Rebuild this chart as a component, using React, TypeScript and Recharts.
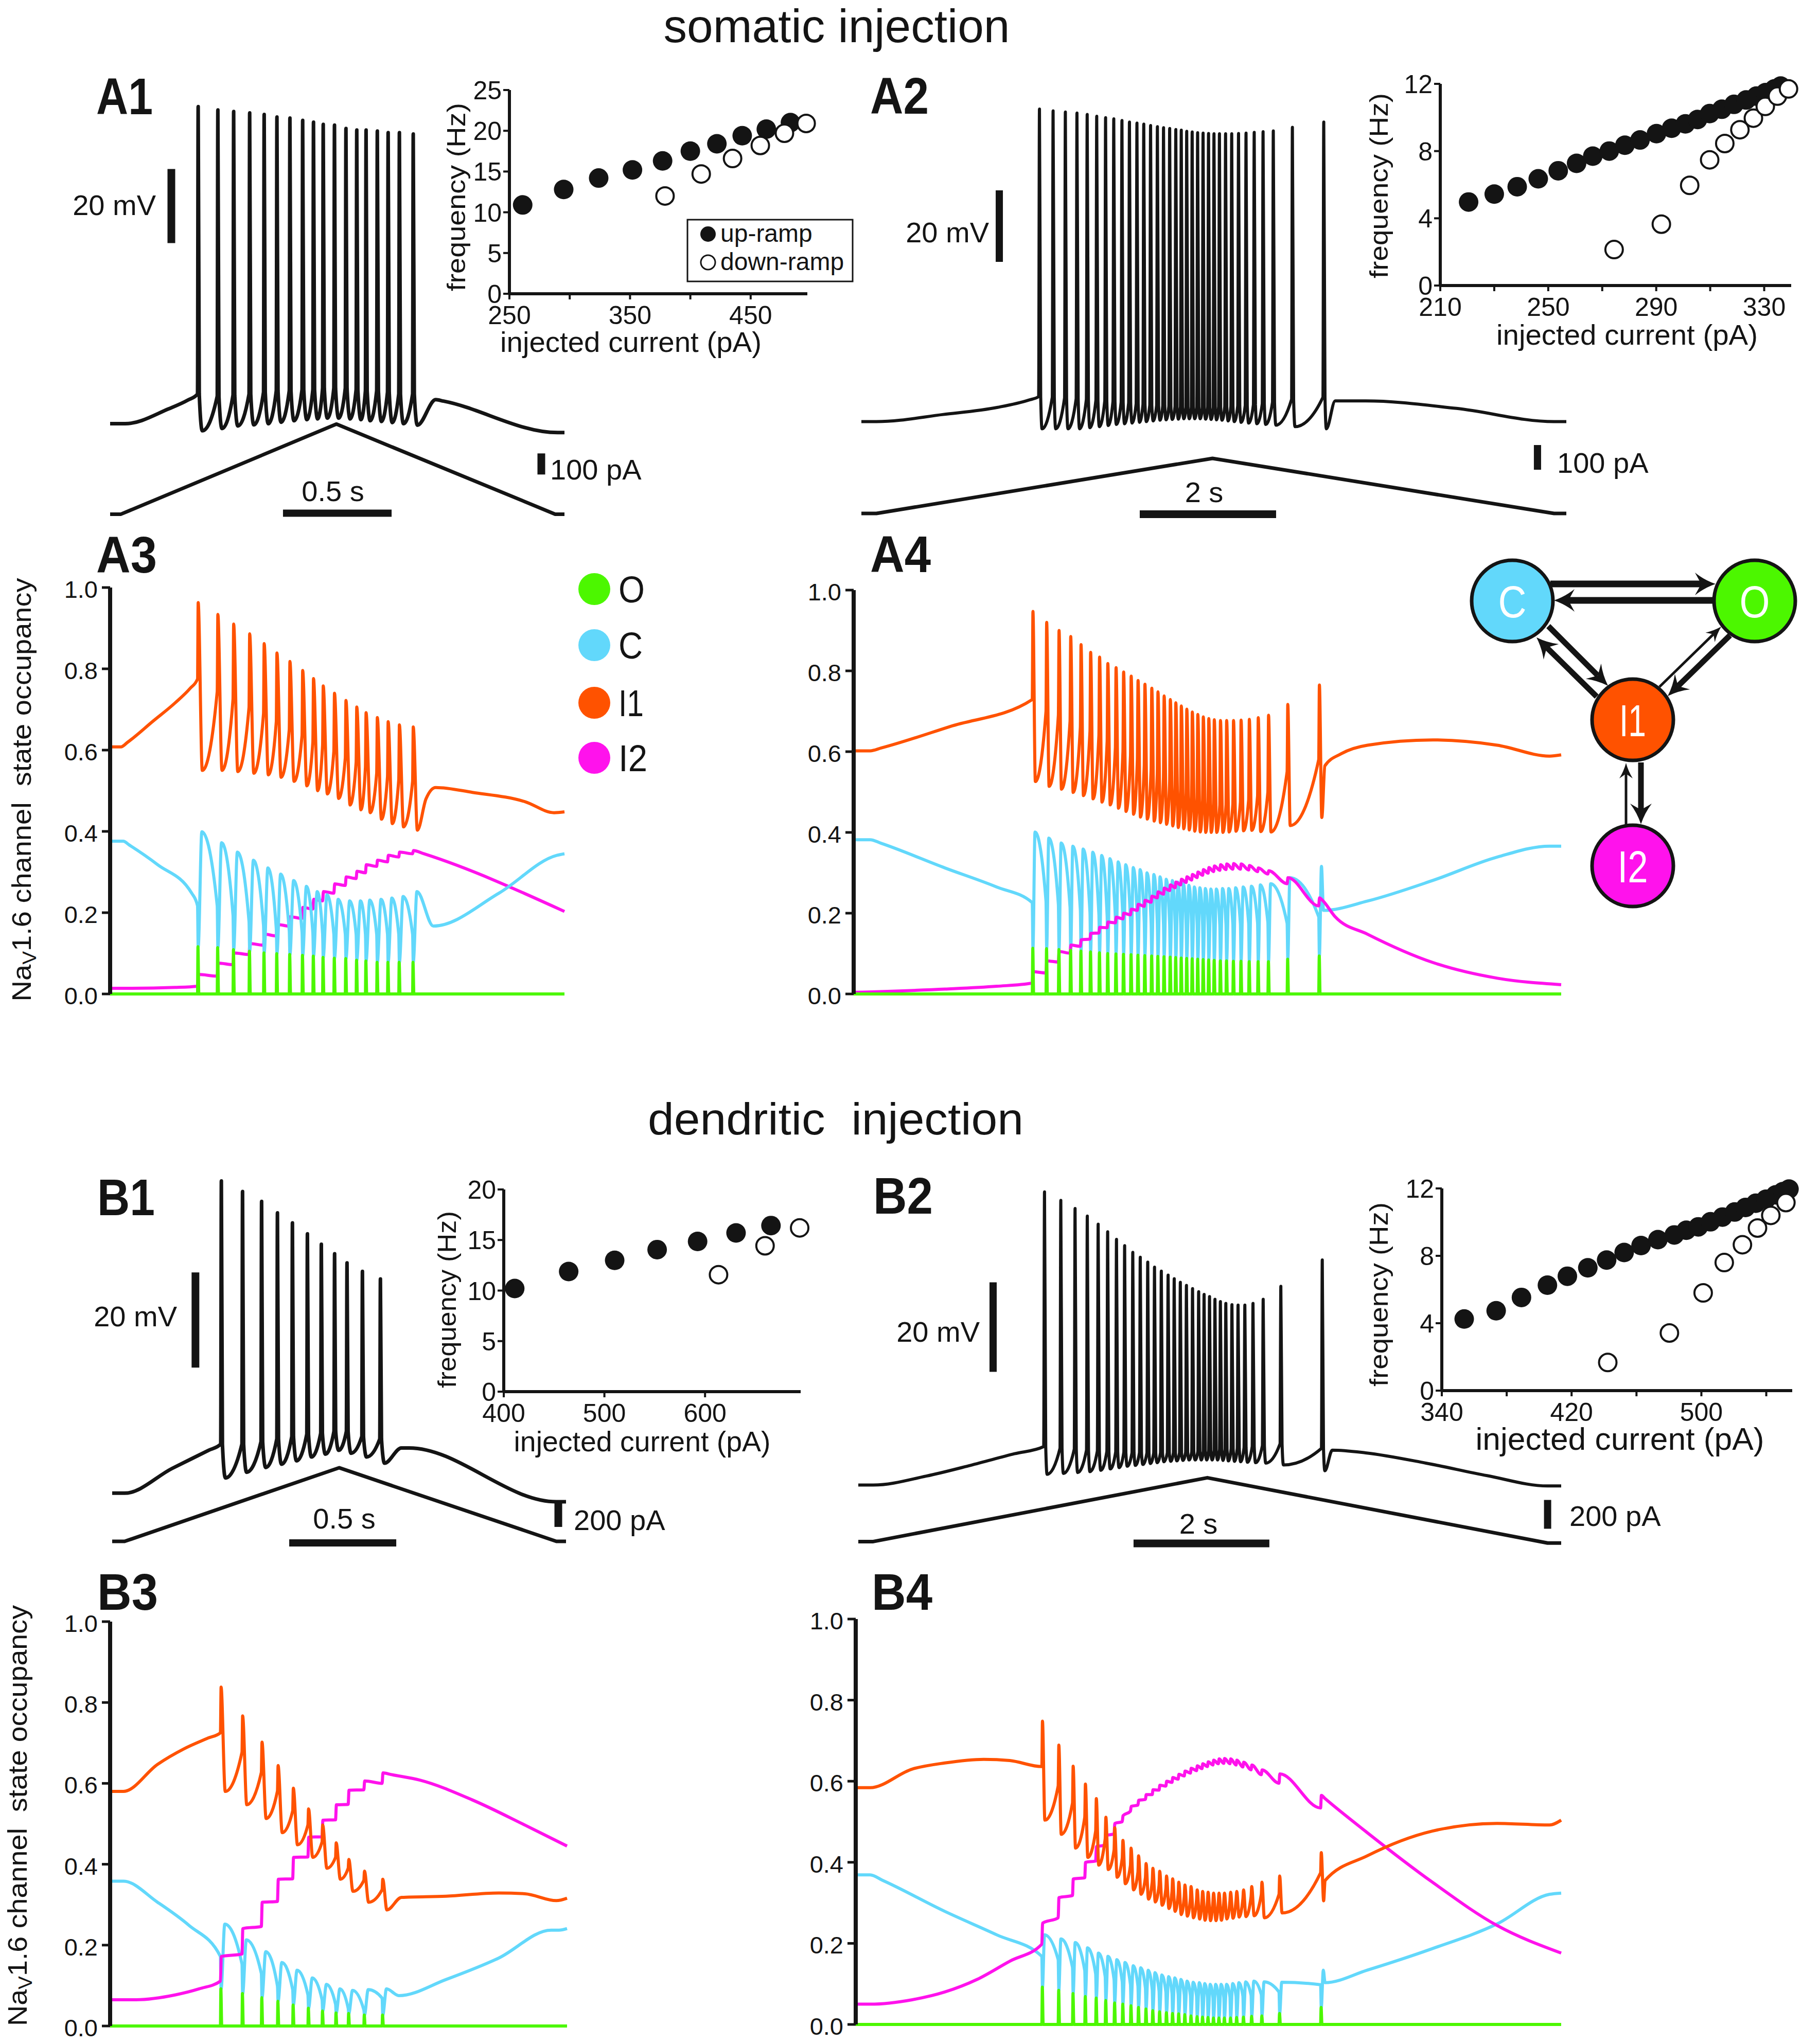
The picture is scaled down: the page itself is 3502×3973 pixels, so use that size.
import React from "react";
import { LineChart, Line, XAxis, YAxis, ScatterChart, Scatter } from "recharts";

const FF = "'Liberation Sans', Arial, Helvetica, sans-serif";
const INK = "#141414";
const COL_O = "#4cf700";
const COL_C = "#62d8fb";
const COL_I1 = "#ff5200";
const COL_I2 = "#ff12ec";

// ================= DATA =================
// --- A1 / A3 (somatic, fast ramp) spike times (s)
const A1_SPIKES = [0.404, 0.495, 0.568, 0.642, 0.709, 0.768, 0.828, 0.887, 0.937, 0.982, 1.034, 1.087, 1.137, 1.18, 1.232, 1.282, 1.334, 1.398];
const A1_V_PEAK = [15.6, 14.7, 14.3, 13.9, 13.5, 12.8, 12.5, 11.9, 11.4, 10.8, 10.6, 9.7, 9.3, 9.3, 9.0, 8.6, 8.6, 8.2];
const A1_V_THR = [-62.0, -62.6, -62.3, -62.0, -61.5, -61.1, -61.1, -60.8, -60.8, -60.4, -60.4, -60.4, -60.8, -61.1, -61.1, -61.5, -62.0, -62.0];
const A1_V_AHP = [-71.9, -71.3, -70.6, -70.3, -70.0, -69.6, -69.2, -68.9, -68.7, -68.5, -68.5, -68.7, -68.9, -69.2, -69.4, -69.7, -70.0, -70.4];
const A1_V_BEFORE: [number, number][] = [[0, -70], [0.07, -70], [0.27, -66.0], [0.36, -63.6]];
const A1_V_AFTER: [number, number][] = [[1.505, -63.5], [1.541, -63.9], [2.069, -72.4], [2.1, -72.4]];
const A1_RAMP: [number, number][] = [[0, 0], [0.05, 0], [1.046, 427], [2.057, 0], [2.1, 0]];
const A1_UP_X = [261, 295, 324, 352, 377, 400, 422, 443, 463, 483];
const A1_UP_Y = [10.9, 12.8, 14.2, 15.2, 16.3, 17.5, 18.4, 19.4, 20.2, 21.0];
const A1_DOWN_X = [379, 409, 435, 458, 478, 496];
const A1_DOWN_Y = [12.0, 14.7, 16.6, 18.2, 19.7, 20.9];

const A3_I1_PRE = [0.775, 0.744, 0.725, 0.705, 0.69, 0.67, 0.651, 0.636, 0.62, 0.612, 0.597, 0.581, 0.57, 0.558, 0.543, 0.535, 0.527, 0.523];
const A3_I1_PEAK = [0.963, 0.934, 0.91, 0.886, 0.862, 0.839, 0.818, 0.796, 0.776, 0.758, 0.74, 0.722, 0.706, 0.692, 0.68, 0.67, 0.662, 0.657];
const A3_I1_TROUGH = [0.55, 0.55, 0.547, 0.543, 0.539, 0.533, 0.523, 0.512, 0.5, 0.492, 0.481, 0.465, 0.453, 0.446, 0.43, 0.419, 0.411, 0.403];
const A3_I1_BEFORE: [number, number][] = [[0, 0.608], [0.05, 0.608], [0.08, 0.619], [0.2, 0.672], [0.3, 0.716], [0.37, 0.752]];
const A3_I1_AFTER: [number, number][] = [[1.46, 0.48], [1.505, 0.508], [1.675, 0.496], [1.918, 0.473], [2.052, 0.446], [2.1, 0.448]];
const A3_C_PRE = [0.217, 0.217, 0.194, 0.178, 0.168, 0.16, 0.155, 0.152, 0.15, 0.148, 0.147, 0.147, 0.147, 0.147, 0.147, 0.147, 0.147, 0.147];
const A3_O_PEAK = [0.116, 0.114, 0.109, 0.105, 0.101, 0.099, 0.097, 0.095, 0.093, 0.09, 0.088, 0.087, 0.083, 0.081, 0.078, 0.078, 0.078, 0.078];
const A3_C_PEAK = [0.399, 0.372, 0.349, 0.329, 0.31, 0.295, 0.279, 0.265, 0.252, 0.244, 0.233, 0.229, 0.229, 0.231, 0.233, 0.236, 0.24, 0.252];
const A3_C_BEFORE: [number, number][] = [[0, 0.376], [0.06, 0.376], [0.09, 0.366], [0.22, 0.318], [0.377, 0.248]];
const A3_C_AFTER: [number, number][] = [[1.494, 0.167], [1.797, 0.248], [2.064, 0.341], [2.1, 0.345]];
const A3_I2_LOW = [0.019, 0.044, 0.072, 0.097, 0.12, 0.143, 0.167, 0.186, 0.209, 0.229, 0.248, 0.267, 0.284, 0.298, 0.314, 0.325, 0.337, 0.345];
const A3_I2_HIGH = [0.048, 0.076, 0.101, 0.124, 0.147, 0.171, 0.19, 0.213, 0.233, 0.252, 0.271, 0.288, 0.302, 0.318, 0.329, 0.341, 0.349, 0.353];
const A3_I2_BEFORE: [number, number][] = [[0, 0.014], [0.1, 0.014], [0.3, 0.016]];
const A3_I2_AFTER: [number, number][] = [[1.45, 0.345], [2.1, 0.203]];

// --- A2 / A4 (somatic, slow ramp)
const A2_SPIKES = [2.6, 2.8, 2.98, 3.15, 3.3, 3.44, 3.57, 3.69, 3.81, 3.92, 4.03, 4.13, 4.23, 4.33, 4.42, 4.51, 4.6, 4.68, 4.76, 4.84, 4.92, 5.0, 5.08, 5.16, 5.24, 5.33, 5.42, 5.52, 5.63, 5.75, 5.88, 6.03, 6.31, 6.77];
const A2_V_PEAK = [17.4, 16.9, 16.6, 16.3, 15.9, 15.4, 15.0, 14.7, 14.2, 13.8, 13.5, 13.2, 12.8, 12.5, 12.2, 12.0, 11.7, 11.5, 11.2, 11.0, 10.8, 10.7, 10.6, 10.5, 10.5, 10.5, 10.5, 10.6, 10.7, 10.9, 11.1, 11.3, 12.3, 13.8];
const A2_V_AHP = [-72.0, -72.0, -72.0, -72.0, -71.7, -71.4, -71.1, -70.8, -70.6, -70.4, -70.2, -70.0, -69.8, -69.6, -69.5, -69.4, -69.3, -69.2, -69.2, -69.2, -69.2, -69.3, -69.4, -69.5, -69.6, -69.8, -70.0, -70.2, -70.4, -70.6, -70.8, -71.0, -71.4, -72.0];
const A2_V_THR = [-63.0, -63.2, -63.4, -63.6, -63.8, -64.0, -64.2, -64.4, -64.6, -64.8, -65.0, -65.2, -65.4, -65.5, -65.6, -65.7, -65.8, -65.9, -66.0, -66.0, -66.0, -66.0, -66.0, -66.0, -65.9, -65.8, -65.7, -65.6, -65.5, -65.3, -65.0, -64.6, -63.8, -63.2];
const A2_V_BEFORE: [number, number][] = [[0, -70], [0.22, -70], [1.2, -68.0], [2.0, -66.0], [2.45, -64.0]];
const A2_V_AFTER: [number, number][] = [[6.95, -64.2], [7.4, -64.2], [8.73, -66.3], [10.16, -70], [10.34, -70]];
const A2_RAMP: [number, number][] = [[0, 0], [0.22, 0], [5.15, 223], [10.16, 0], [10.34, 0]];
const A2_UP_X = [220.5, 230.0, 238.5, 246.3, 253.7, 260.5, 266.5, 272.6, 278.4, 284.0, 290.1, 295.7, 300.8, 305.3, 309.8, 314.3, 318.8, 323.3, 327.1, 330.5, 333.8, 336.1];
const A2_UP_Y = [4.97, 5.44, 5.88, 6.35, 6.83, 7.27, 7.7, 8.0, 8.35, 8.66, 9.04, 9.36, 9.62, 9.88, 10.23, 10.49, 10.78, 11.04, 11.27, 11.48, 11.7, 11.87];
const A2_DOWN_X = [274.4, 291.9, 302.4, 309.8, 315.4, 321.0, 326.0, 330.4, 334.9, 339.0];
const A2_DOWN_Y = [2.14, 3.65, 5.96, 7.48, 8.45, 9.27, 9.96, 10.66, 11.27, 11.7];

const A4_I1_PRE = [0.729, 0.7, 0.69, 0.675, 0.66, 0.65, 0.64, 0.625, 0.61, 0.6, 0.59, 0.58, 0.565, 0.555, 0.545, 0.535, 0.525, 0.515, 0.505, 0.497, 0.49, 0.485, 0.48, 0.475, 0.47, 0.468, 0.468, 0.47, 0.475, 0.48, 0.49, 0.5, 0.55, 0.58];
const A4_I1_PEAK = [0.947, 0.92, 0.9, 0.885, 0.865, 0.846, 0.834, 0.818, 0.808, 0.797, 0.787, 0.776, 0.767, 0.757, 0.748, 0.738, 0.729, 0.721, 0.713, 0.705, 0.698, 0.692, 0.686, 0.682, 0.679, 0.677, 0.677, 0.677, 0.678, 0.68, 0.684, 0.69, 0.717, 0.765];
const A4_I1_TROUGH = [0.526, 0.514, 0.507, 0.499, 0.491, 0.483, 0.475, 0.468, 0.46, 0.452, 0.445, 0.438, 0.433, 0.428, 0.424, 0.42, 0.416, 0.412, 0.409, 0.406, 0.403, 0.401, 0.4, 0.4, 0.4, 0.4, 0.401, 0.403, 0.404, 0.405, 0.402, 0.401, 0.417, 0.437];
const A4_I1_BEFORE: [number, number][] = [[0, 0.602], [0.24, 0.602], [0.4, 0.609], [1.4, 0.662]];
const A4_I1_AFTER: [number, number][] = [[6.86, 0.565], [7.1, 0.595], [7.48, 0.616], [8.43, 0.629], [9.37, 0.616], [10.13, 0.589], [10.3, 0.592]];
const A4_C_PRE = [0.226, 0.23, 0.222, 0.215, 0.208, 0.202, 0.197, 0.193, 0.189, 0.186, 0.183, 0.181, 0.179, 0.177, 0.176, 0.175, 0.174, 0.173, 0.173, 0.172, 0.172, 0.172, 0.172, 0.172, 0.172, 0.172, 0.172, 0.173, 0.174, 0.175, 0.176, 0.177, 0.175, 0.191];
const A4_O_PEAK = [0.113, 0.112, 0.11, 0.108, 0.106, 0.104, 0.102, 0.1, 0.099, 0.098, 0.097, 0.096, 0.095, 0.094, 0.093, 0.092, 0.091, 0.09, 0.089, 0.088, 0.087, 0.086, 0.085, 0.084, 0.083, 0.082, 0.082, 0.081, 0.081, 0.08, 0.08, 0.08, 0.086, 0.094];
const A4_C_PEAK = [0.401, 0.386, 0.374, 0.366, 0.359, 0.351, 0.343, 0.335, 0.327, 0.32, 0.313, 0.308, 0.3, 0.296, 0.29, 0.284, 0.281, 0.277, 0.273, 0.269, 0.265, 0.263, 0.261, 0.26, 0.26, 0.261, 0.261, 0.263, 0.265, 0.267, 0.27, 0.273, 0.288, 0.316];
const A4_C_BEFORE: [number, number][] = [[0, 0.382], [0.24, 0.382], [0.4, 0.373], [1.33, 0.312], [2.08, 0.265]];
const A4_C_AFTER: [number, number][] = [[6.84, 0.207], [7.48, 0.23], [8.43, 0.281], [9.37, 0.339], [10.13, 0.366], [10.3, 0.366]];
const A4_I2_LOW = [0.027, 0.052, 0.079, 0.101, 0.118, 0.136, 0.151, 0.164, 0.176, 0.186, 0.196, 0.207, 0.217, 0.227, 0.238, 0.247, 0.256, 0.263, 0.27, 0.276, 0.282, 0.288, 0.294, 0.299, 0.303, 0.306, 0.308, 0.309, 0.309, 0.307, 0.303, 0.297, 0.273, 0.218];
const A4_I2_HIGH = [0.055, 0.082, 0.105, 0.121, 0.134, 0.15, 0.165, 0.178, 0.19, 0.2, 0.21, 0.222, 0.232, 0.242, 0.253, 0.262, 0.27, 0.277, 0.284, 0.29, 0.296, 0.302, 0.308, 0.313, 0.317, 0.32, 0.322, 0.323, 0.322, 0.318, 0.312, 0.305, 0.288, 0.238];
const A4_I2_BEFORE: [number, number][] = [[0, 0.004], [1.33, 0.012], [2.08, 0.019]];
const A4_I2_AFTER: [number, number][] = [[6.83, 0.231], [7.01, 0.191], [7.48, 0.148], [8.43, 0.078], [9.37, 0.039], [10.3, 0.023]];

// --- B1 / B3 (dendritic, fast ramp)
const B1_SPIKES = [0.507, 0.606, 0.695, 0.769, 0.839, 0.909, 0.974, 1.036, 1.094, 1.166, 1.25];
const B1_V_PEAK = [-4.4, -6.6, -8.7, -11.1, -13.2, -15.5, -17.7, -19.7, -21.6, -23.4, -25.0];
const B1_V_THR = [-59.7, -59.7, -59.2, -58.6, -58.1, -57.6, -57.4, -57.0, -57.0, -58.1, -58.6];
const B1_V_AHP = [-66.8, -65.6, -64.6, -63.9, -63.2, -62.4, -61.8, -61.0, -61.6, -62.4, -63.7];
const B1_V_BEFORE: [number, number][] = [[0, -70], [0.058, -70], [0.28, -64.8], [0.45, -61.0]];
const B1_V_AFTER: [number, number][] = [[1.351, -60.5], [1.387, -60.5], [2.075, -71.8], [2.12, -71.8]];
const B1_RAMP: [number, number][] = [[0, 0], [0.058, 0], [1.06, 622], [2.075, 0], [2.12, 0]];
const B1_UP_X = [410.9, 464.5, 510.2, 552.4, 592.6, 630.8, 665.5];
const B1_UP_Y = [10.2, 11.88, 12.99, 14.05, 14.86, 15.7, 16.43];
const B1_DOWN_X = [613.4, 659.6, 694];
const B1_DOWN_Y = [11.57, 14.43, 16.2];

const B3_I1_PRE = [0.725, 0.677, 0.627, 0.581, 0.532, 0.497, 0.455, 0.417, 0.39, 0.36, 0.337];
const B3_I1_PEAK = [0.838, 0.767, 0.702, 0.644, 0.588, 0.537, 0.497, 0.453, 0.412, 0.383, 0.363];
const B3_I1_TROUGH = [0.58, 0.547, 0.513, 0.478, 0.448, 0.417, 0.39, 0.363, 0.333, 0.306, 0.287];
const B3_I1_BEFORE: [number, number][] = [[0, 0.58], [0.061, 0.58], [0.218, 0.647], [0.338, 0.685], [0.45, 0.712]];
const B3_I1_AFTER: [number, number][] = [[1.339, 0.318], [1.544, 0.321], [1.786, 0.329], [1.906, 0.327], [2.051, 0.31], [2.1, 0.316]];
const B3_C_PRE = [0.172, 0.153, 0.13, 0.099, 0.09, 0.077, 0.065, 0.054, 0.044, 0.04, 0.069];
const B3_O_PEAK = [0.092, 0.08, 0.07, 0.061, 0.052, 0.044, 0.037, 0.032, 0.031, 0.027, 0.027];
const B3_C_PEAK = [0.252, 0.213, 0.184, 0.157, 0.138, 0.119, 0.103, 0.092, 0.088, 0.09, 0.092];
const B3_C_BEFORE: [number, number][] = [[0, 0.358], [0.061, 0.358], [0.218, 0.306], [0.362, 0.249]];
const B3_C_AFTER: [number, number][] = [[1.327, 0.075], [1.544, 0.115], [1.786, 0.168], [2.027, 0.237], [2.063, 0.237], [2.1, 0.241]];
const B3_I2_LOW = [0.111, 0.178, 0.246, 0.308, 0.364, 0.418, 0.468, 0.51, 0.548, 0.584, 0.6];
const B3_I2_HIGH = [0.172, 0.241, 0.306, 0.363, 0.417, 0.467, 0.509, 0.547, 0.583, 0.606, 0.626];
const B3_I2_BEFORE: [number, number][] = [[0, 0.065], [0.12, 0.065], [0.3, 0.077], [0.41, 0.092]];
const B3_I2_AFTER: [number, number][] = [[1.29, 0.622], [1.424, 0.608], [1.665, 0.559], [1.906, 0.497], [2.1, 0.445]];

// --- B2 / B4 (dendritic, slow ramp)
const B2_SPIKES = [2.73, 2.97, 3.18, 3.36, 3.52, 3.66, 3.79, 3.91, 4.03, 4.14, 4.25, 4.35, 4.45, 4.55, 4.64, 4.73, 4.82, 4.91, 5.0, 5.08, 5.16, 5.24, 5.32, 5.4, 5.49, 5.58, 5.68, 5.8, 5.95, 6.21, 6.82];
const B2_V_PEAK = [-4.5, -6.4, -8.2, -9.9, -11.7, -13.4, -15.1, -16.5, -18.0, -19.1, -20.2, -21.3, -22.2, -23.1, -23.9, -24.7, -25.4, -26.1, -26.8, -27.4, -27.9, -28.5, -29.0, -29.4, -29.7, -29.8, -29.8, -29.4, -28.5, -25.6, -19.7];
const B2_V_AHP = [-67.6, -67.4, -67.2, -67.0, -66.7, -66.4, -66.1, -65.8, -65.6, -65.4, -65.2, -65.0, -64.8, -64.7, -64.6, -64.5, -64.4, -64.4, -64.4, -64.4, -64.4, -64.4, -64.5, -64.6, -64.7, -64.8, -64.9, -65.0, -65.1, -65.5, -66.8];
const B2_V_THR = [-61.4, -61.8, -62.0, -62.2, -62.4, -62.5, -62.6, -62.7, -62.8, -62.8, -62.8, -62.8, -62.8, -62.8, -62.8, -62.8, -62.7, -62.6, -62.5, -62.4, -62.3, -62.2, -62.1, -62.0, -61.9, -61.8, -61.6, -61.4, -61.2, -60.8, -61.8];
const B2_V_BEFORE: [number, number][] = [[0, -70], [0.22, -70], [1.0, -68.0], [1.65, -65.6], [2.3, -63.0]];
const B2_V_AFTER: [number, number][] = [[6.98, -62.2], [7.47, -62.8], [8.36, -65.1], [9.26, -67.9], [10.15, -70.2], [10.35, -70.2]];
const B2_RAMP: [number, number][] = [[0, 0], [0.22, 0], [5.14, 443], [10.15, -10], [10.35, -10]];
const B2_UP_X = [353.8, 373.5, 389.1, 405.1, 417.4, 430.0, 441.6, 452.4, 462.8, 473.2, 483.3, 490.7, 498.1, 505.6, 513.0, 520.5, 527.2, 533.5, 539.8, 545.8, 550.2, 554.0];
const B2_UP_Y = [4.25, 4.74, 5.53, 6.26, 6.79, 7.29, 7.75, 8.2, 8.61, 8.96, 9.24, 9.52, 9.72, 10.02, 10.3, 10.6, 10.87, 11.12, 11.36, 11.62, 11.81, 11.96];
const B2_DOWN_X = [442.3, 480.3, 501.1, 514.1, 525.3, 534.6, 542.8, 552.1];
const B2_DOWN_Y = [1.67, 3.42, 5.8, 7.6, 8.66, 9.65, 10.4, 11.16];

const B4_I1_PRE = [0.636, 0.588, 0.546, 0.511, 0.477, 0.458, 0.43, 0.41, 0.392, 0.375, 0.362, 0.352, 0.343, 0.335, 0.328, 0.321, 0.316, 0.311, 0.307, 0.304, 0.302, 0.301, 0.301, 0.302, 0.304, 0.307, 0.31, 0.315, 0.32, 0.321, 0.374];
const B4_I1_PEAK = [0.748, 0.689, 0.637, 0.593, 0.557, 0.511, 0.485, 0.454, 0.435, 0.416, 0.397, 0.385, 0.378, 0.366, 0.359, 0.351, 0.344, 0.34, 0.332, 0.328, 0.326, 0.324, 0.324, 0.324, 0.326, 0.328, 0.332, 0.34, 0.351, 0.366, 0.424];
const B4_I1_TROUGH = [0.504, 0.469, 0.435, 0.412, 0.393, 0.382, 0.363, 0.347, 0.332, 0.321, 0.309, 0.302, 0.294, 0.286, 0.279, 0.271, 0.267, 0.263, 0.26, 0.257, 0.256, 0.256, 0.257, 0.26, 0.262, 0.265, 0.266, 0.268, 0.263, 0.275, 0.305];
const B4_I1_BEFORE: [number, number][] = [[0, 0.584], [0.21, 0.584], [0.83, 0.63], [1.306, 0.645], [1.878, 0.654], [2.26, 0.651]];
const B4_I1_AFTER: [number, number][] = [[6.886, 0.355], [7.506, 0.416], [8.46, 0.477], [9.41, 0.496], [10.18, 0.492], [10.35, 0.504]];
const B4_C_PRE = [0.168, 0.16, 0.141, 0.133, 0.125, 0.118, 0.111, 0.105, 0.099, 0.095, 0.09, 0.086, 0.083, 0.08, 0.077, 0.075, 0.073, 0.071, 0.07, 0.069, 0.068, 0.067, 0.067, 0.067, 0.068, 0.069, 0.07, 0.072, 0.074, 0.08, 0.098];
const B4_O_PEAK = [0.092, 0.084, 0.076, 0.069, 0.065, 0.059, 0.053, 0.05, 0.046, 0.042, 0.038, 0.034, 0.031, 0.029, 0.027, 0.026, 0.024, 0.021, 0.019, 0.018, 0.017, 0.016, 0.016, 0.016, 0.016, 0.017, 0.018, 0.02, 0.021, 0.027, 0.042];
const B4_C_PEAK = [0.221, 0.211, 0.202, 0.189, 0.176, 0.168, 0.16, 0.153, 0.145, 0.14, 0.134, 0.128, 0.122, 0.118, 0.115, 0.111, 0.107, 0.104, 0.103, 0.101, 0.099, 0.099, 0.099, 0.099, 0.101, 0.103, 0.105, 0.107, 0.105, 0.104, 0.134];
const B4_C_BEFORE: [number, number][] = [[0, 0.369], [0.21, 0.369], [0.4, 0.355], [1.306, 0.279], [2.07, 0.221]];
const B4_C_AFTER: [number, number][] = [[6.886, 0.103], [7.506, 0.134], [8.46, 0.187], [9.41, 0.248], [10.18, 0.321], [10.35, 0.324]];
const B4_I2_LOW = [0.198, 0.263, 0.318, 0.362, 0.403, 0.442, 0.47, 0.5, 0.526, 0.541, 0.555, 0.567, 0.578, 0.588, 0.597, 0.605, 0.613, 0.62, 0.626, 0.631, 0.636, 0.64, 0.643, 0.644, 0.643, 0.64, 0.635, 0.628, 0.616, 0.595, 0.534];
const B4_I2_HIGH = [0.25, 0.313, 0.359, 0.4, 0.439, 0.466, 0.496, 0.515, 0.538, 0.553, 0.567, 0.579, 0.59, 0.6, 0.609, 0.617, 0.625, 0.632, 0.638, 0.643, 0.648, 0.652, 0.655, 0.656, 0.655, 0.652, 0.647, 0.64, 0.628, 0.618, 0.565];
const B4_I2_BEFORE: [number, number][] = [[0, 0.05], [0.21, 0.05], [0.83, 0.061], [1.306, 0.08], [1.78, 0.111], [2.26, 0.156]];
const B4_I2_AFTER: [number, number][] = [[6.88, 0.558], [7.506, 0.473], [8.46, 0.351], [9.41, 0.244], [10.35, 0.176]];

// tick values
const OCC_TICKS = [0, 0.2, 0.4, 0.6, 0.8, 1.0];
const A1_XTICKS = [250, 300, 350, 400, 450];
const A1_XLABELS = [250, 350, 450];
const A1_YTICKS = [0, 5, 10, 15, 20, 25];
const A2_XTICKS = [210, 230, 250, 270, 290, 310, 330];
const A2_XLABELS = [210, 250, 290, 330];
const A2_YTICKS = [0, 4, 8, 12];
const B1_XTICKS = [400, 500, 600];
const B1_XLABELS = [400, 500, 600];
const B1_YTICKS = [0, 5, 10, 15, 20];
const B2_XTICKS = [340, 380, 420, 460, 500, 540];
const B2_XLABELS = [340, 420, 500];
const B2_YTICKS = [0, 4, 8, 12];

// spike-shape time offsets (s): fast panels (2 s sweep) and slow panels (10 s sweep)
const OFF_V_FAST = [0, 0.003, 0.008, 0.022];
const OFF_V_SLOW = [0, 0.012, 0.03, 0.05];
const OFF_I1_FAST = [0, 0.003, 0.022];
const OFF_I1_SLOW = [0, 0.01, 0.045];
const OFF_C_FAST = [0, 0.003, 0.02];
const OFF_C_SLOW = [0, 0.01, 0.04];
const OFF_O_FAST = [0, 0.002, 0.006];
const OFF_O_SLOW = [0, 0.008, 0.02];
const OFF_I2_FAST = [0, 0.004];
const OFF_I2_SLOW = [0, 0.012];

// ================= helpers =================
type Pt = [number, number];
const rows = (pts: Pt[]) => pts.map(([t, v]) => ({ t, v }));
const zeros = (n: number) => new Array(n).fill(0);
function spikes(before: Pt[], times: number[], cols: number[][], offs: number[], after: Pt[]) {
  const pts: Pt[] = before.slice();
  times.forEach((t, i) => cols.forEach((c, k) => pts.push([t + offs[k], c[i]])));
  return rows(pts.concat(after));
}
const pts2 = (xs: number[], ys: number[]) => xs.map((x, i) => ({ x, y: ys[i] }));
const seg = (t0: number, v0: number, t1: number, v1: number) => rows([[t0, v0], [t1, v1]]);

// built series
const a1V = spikes(A1_V_BEFORE, A1_SPIKES, [A1_V_THR, A1_V_PEAK, A1_V_THR, A1_V_AHP], OFF_V_FAST, A1_V_AFTER);
const a2V = spikes(A2_V_BEFORE, A2_SPIKES, [A2_V_THR, A2_V_PEAK, A2_V_THR, A2_V_AHP], OFF_V_SLOW, A2_V_AFTER);
const b1V = spikes(B1_V_BEFORE, B1_SPIKES, [B1_V_THR, B1_V_PEAK, B1_V_THR, B1_V_AHP], OFF_V_FAST, B1_V_AFTER);
const b2V = spikes(B2_V_BEFORE, B2_SPIKES, [B2_V_THR, B2_V_PEAK, B2_V_THR, B2_V_AHP], OFF_V_SLOW, B2_V_AFTER);

function occSeries(times: number[], T: number, d: any, fast: boolean) {
  const n = times.length;
  return {
    I1: spikes(d.i1b, times, [d.i1pre, d.i1peak, d.i1tr], fast ? OFF_I1_FAST : OFF_I1_SLOW, d.i1a),
    C: spikes(d.cb, times, [d.cpre, d.opk, d.cpk], fast ? OFF_C_FAST : OFF_C_SLOW, d.ca),
    O: spikes([[0, 0]], times, [zeros(n), d.opk, zeros(n)], fast ? OFF_O_FAST : OFF_O_SLOW, [[T, 0]]),
    I2: spikes(d.i2b, times, [d.i2lo, d.i2hi], fast ? OFF_I2_FAST : OFF_I2_SLOW, d.i2a),
  };
}
const a3 = occSeries(A1_SPIKES, 2.1, { i1b: A3_I1_BEFORE, i1pre: A3_I1_PRE, i1peak: A3_I1_PEAK, i1tr: A3_I1_TROUGH, i1a: A3_I1_AFTER, cb: A3_C_BEFORE, cpre: A3_C_PRE, opk: A3_O_PEAK, cpk: A3_C_PEAK, ca: A3_C_AFTER, i2b: A3_I2_BEFORE, i2lo: A3_I2_LOW, i2hi: A3_I2_HIGH, i2a: A3_I2_AFTER }, true);
const a4 = occSeries(A2_SPIKES, 10.3, { i1b: A4_I1_BEFORE, i1pre: A4_I1_PRE, i1peak: A4_I1_PEAK, i1tr: A4_I1_TROUGH, i1a: A4_I1_AFTER, cb: A4_C_BEFORE, cpre: A4_C_PRE, opk: A4_O_PEAK, cpk: A4_C_PEAK, ca: A4_C_AFTER, i2b: A4_I2_BEFORE, i2lo: A4_I2_LOW, i2hi: A4_I2_HIGH, i2a: A4_I2_AFTER }, false);
const b3 = occSeries(B1_SPIKES, 2.1, { i1b: B3_I1_BEFORE, i1pre: B3_I1_PRE, i1peak: B3_I1_PEAK, i1tr: B3_I1_TROUGH, i1a: B3_I1_AFTER, cb: B3_C_BEFORE, cpre: B3_C_PRE, opk: B3_O_PEAK, cpk: B3_C_PEAK, ca: B3_C_AFTER, i2b: B3_I2_BEFORE, i2lo: B3_I2_LOW, i2hi: B3_I2_HIGH, i2a: B3_I2_AFTER }, true);
const b4 = occSeries(B2_SPIKES, 10.35, { i1b: B4_I1_BEFORE, i1pre: B4_I1_PRE, i1peak: B4_I1_PEAK, i1tr: B4_I1_TROUGH, i1a: B4_I1_AFTER, cb: B4_C_BEFORE, cpre: B4_C_PRE, opk: B4_O_PEAK, cpk: B4_C_PEAK, ca: B4_C_AFTER, i2b: B4_I2_BEFORE, i2lo: B4_I2_LOW, i2hi: B4_I2_HIGH, i2a: B4_I2_AFTER }, false);

const ln = (key: string, data: any[], color: string, sw: number, curve: any = "monotoneX") => (
  <Line key={key} data={data} dataKey="v" type={curve} stroke={color} strokeWidth={sw} dot={false} activeDot={false}
    isAnimationActive={false} strokeLinejoin="round" strokeLinecap="butt" />
);

function Frame({ left, top, w, h, xDomain, yDomain, children }: any) {
  const pad = 24;
  return (
    <div style={{ position: "absolute", left: left - pad, top: top - pad }}>
      <LineChart width={w + 2 * pad} height={h + 2 * pad} margin={{ top: pad, right: pad, bottom: pad, left: pad }}>
        <XAxis type="number" dataKey="t" domain={xDomain} hide height={0} />
        <YAxis type="number" dataKey="v" domain={yDomain} hide width={0} />
        {children}
      </LineChart>
    </div>
  );
}

const OccTick = (p: any) => (
  <text x={p.x} y={p.y} dy={20} textAnchor="end" fontSize={47} fontFamily={FF} fill={INK}>
    {Number(p.payload.value).toFixed(1)}
  </text>
);

function Occ({ left, top, w, h, T, s, i2First }: any) {
  const yW = 170, mt = 40, mb = 30, mr = 20;
  const lines = i2First
    ? [ln("i2", s.I2, COL_I2, 6), ln("c", s.C, COL_C, 6), ln("i1", s.I1, COL_I1, 6), ln("o", s.O, COL_O, 6)]
    : [ln("c", s.C, COL_C, 6), ln("i2", s.I2, COL_I2, 6), ln("i1", s.I1, COL_I1, 6), ln("o", s.O, COL_O, 6)];
  return (
    <div style={{ position: "absolute", left: left - yW, top: top - mt }}>
      <LineChart width={yW + w + mr} height={mt + h + mb} margin={{ top: mt, right: mr, bottom: mb, left: 0 }}>
        <XAxis type="number" dataKey="t" domain={[0, T]} hide height={0} />
        <YAxis type="number" dataKey="v" domain={[0, 1]} ticks={OCC_TICKS} interval={0} width={yW}
          axisLine={{ stroke: INK, strokeWidth: 8 }} tickLine={{ stroke: INK, strokeWidth: 5 }} tickSize={16} tickMargin={8} tick={OccTick} />
        {lines}
      </LineChart>
    </div>
  );
}

function Inset({ left, top, w, h, xDomain, yDomain, xTicks, xLabels, yTicks, up, down }: any) {
  const yW = 140, xH = 80, mt = 30, mr = 32;
  const xt = (p: any) => (
    <text x={p.x} y={p.y} dy={36} textAnchor="middle" fontSize={50} fontFamily={FF} fill={INK}>
      {xLabels.includes(p.payload.value) ? String(p.payload.value) : ""}
    </text>
  );
  const yt = (p: any) => (
    <text x={p.x} y={p.y} dy={18} textAnchor="end" fontSize={50} fontFamily={FF} fill={INK}>{String(p.payload.value)}</text>
  );
  return (
    <div style={{ position: "absolute", left: left - yW, top: top - mt }}>
      <ScatterChart width={yW + w + mr} height={mt + h + xH} margin={{ top: mt, right: mr, bottom: 0, left: 0 }}>
        <XAxis type="number" dataKey="x" domain={xDomain} ticks={xTicks} interval={0} height={xH}
          axisLine={{ stroke: INK, strokeWidth: 6 }} tickLine={{ stroke: INK, strokeWidth: 4 }} tickSize={11} tickMargin={12} tick={xt} />
        <YAxis type="number" dataKey="y" domain={yDomain} ticks={yTicks} interval={0} width={yW}
          axisLine={{ stroke: INK, strokeWidth: 6 }} tickLine={{ stroke: INK, strokeWidth: 4 }} tickSize={12} tickMargin={3} tick={yt} />
        <Scatter data={up} isAnimationActive={false} shape={(p: any) => <circle cx={p.cx} cy={p.cy} r={19} fill={INK} />} />
        <Scatter data={down} isAnimationActive={false}
          shape={(p: any) => <circle cx={p.cx} cy={p.cy} r={17} fill="#fff" stroke={INK} strokeWidth={4} />} />
      </ScatterChart>
    </div>
  );
}

function Txt({ x, y, size, children, anchor = "start", bold = false, len, rot, fill = INK }: any) {
  return (
    <text x={x} y={y} fontSize={size} fontFamily={FF} fontWeight={bold ? 700 : 400} textAnchor={anchor} fill={fill}
      textLength={len} lengthAdjust={len ? "spacingAndGlyphs" : undefined}
      transform={rot ? `rotate(${rot} ${x} ${y})` : undefined} style={{ whiteSpace: "pre" }}>
      {children}
    </text>
  );
}

function Arrow({ a }: any) {
  const [x1, y1, x2, y2, w, hl, hw] = a;
  const dx = x2 - x1, dy = y2 - y1, L = Math.hypot(dx, dy);
  const ux = dx / L, uy = dy / L, nx = -uy, ny = ux;
  const bx = x2 - ux * hl, by = y2 - uy * hl;
  const nxp = x2 - ux * hl * 0.7, nyp = y2 - uy * hl * 0.7;
  const d = `M ${x2} ${y2} Q ${x2 - ux * hl * 0.55 + nx * hw * 0.35} ${y2 - uy * hl * 0.55 + ny * hw * 0.35} ${bx + nx * hw} ${by + ny * hw} L ${nxp} ${nyp} L ${bx - nx * hw} ${by - ny * hw} Q ${x2 - ux * hl * 0.55 - nx * hw * 0.35} ${y2 - uy * hl * 0.55 - ny * hw * 0.35} ${x2} ${y2} Z`;
  return (
    <g>
      <line x1={x1} y1={y1} x2={nxp} y2={nyp} stroke={INK} strokeWidth={w} />
      <path d={d} fill={INK} />
    </g>
  );
}

const NODES = [
  { k: "C", x: 2939, y: 1168, c: COL_C, len: 55 },
  { k: "O", x: 3410, y: 1168, c: COL_O, len: 59 },
  { k: "I1", x: 3173, y: 1399, c: COL_I1, len: 52 },
  { k: "I2", x: 3173, y: 1683, c: COL_I2, len: 59 },
];
const ARROWS = [
  [3013, 1135, 3334, 1135, 13, 40, 22],
  [3328, 1167, 3020, 1167, 13, 40, 22],
  [3009, 1217, 3125, 1333, 11, 40, 21],
  [3103, 1354, 2986, 1239, 11, 40, 21],
  [3225, 1335, 3345, 1218, 5, 30, 13],
  [3362, 1235, 3241, 1353, 11, 40, 21],
  [3189, 1482, 3189, 1602, 11, 40, 21],
  [3160, 1603, 3160, 1483, 5, 30, 13],
];
const LEGEND = [
  { k: "O", y: 1145, c: COL_O, len: 51 },
  { k: "C", y: 1254, c: COL_C, len: 47 },
  { k: "I1", y: 1366, c: COL_I1, len: 49 },
  { k: "I2", y: 1473, c: COL_I2, len: 56 },
];

export default function App() {
  return (
    <div style={{ position: "absolute", left: 0, top: 0, width: 3502, height: 3973, background: "#fff", overflow: "hidden", fontFamily: FF }}>
      {/* ===== A1 ===== */}
      <Frame left={214} top={190.4} w={883} h={669.6} xDomain={[0, 2.1]} yDomain={[-75, 18]}>
        {ln("v", a1V, INK, 7)}
        {ln("mv", seg(0.283, -21.25, 0.283, -1.25), INK, 15, "linear")}
      </Frame>
      <Frame left={214} top={777.6} w={883} h={233.7} xDomain={[0, 2.1]} yDomain={[-30, 540]}>
        {ln("r", rows(A1_RAMP), INK, 7, "linear")}
        {ln("pa", seg(1.993, 188, 1.993, 288), INK, 15, "linear")}
        {ln("s", seg(0.799, 4.9, 1.301, 4.9), INK, 14, "linear")}
      </Frame>
      <Inset left={990} top={175} w={579} h={396} xDomain={[250, 497]} yDomain={[0, 25]} xTicks={A1_XTICKS} xLabels={A1_XLABELS}
        yTicks={A1_YTICKS} up={pts2(A1_UP_X, A1_UP_Y)} down={pts2(A1_DOWN_X, A1_DOWN_Y)} />

      {/* ===== A2 ===== */}
      <Frame left={1674} top={201.45} w={1370} h={646.35} xDomain={[0, 10.34]} yDomain={[-74, 19]}>
        {ln("v", a2V, INK, 6)}
        {ln("mv", seg(2.023, -25.3, 2.023, -5.3), INK, 14, "linear")}
      </Frame>
      <Frame left={1674} top={854} w={1370} h={158.4} xDomain={[0, 10.34]} yDomain={[-30, 300]}>
        {ln("r", rows(A2_RAMP), INK, 7, "linear")}
        {ln("pa", seg(9.917, 177, 9.917, 277), INK, 14, "linear")}
        {ln("s", seg(4.083, -3, 6.083, -3), INK, 15, "linear")}
      </Frame>
      <Inset left={2799} top={163} w={682} h={392} xDomain={[210, 340]} yDomain={[0, 12]} xTicks={A2_XTICKS} xLabels={A2_XLABELS}
        yTicks={A2_YTICKS} up={pts2(A2_UP_X, A2_UP_Y)} down={pts2(A2_DOWN_X, A2_DOWN_Y)} />

      {/* ===== A3 / A4 ===== */}
      <Occ left={214} top={1142} w={883} h={790} T={2.1} s={a3} i2First />
      <Occ left={1659} top={1147} w={1375} h={785} T={10.3} s={a4} />

      {/* ===== B1 ===== */}
      <Frame left={218} top={2277.6} w={882} h={652.1} xDomain={[0, 2.12]} yDomain={[-73, -2.5]}>
        {ln("v", b1V, INK, 7)}
        {ln("mv", seg(0.389, -43.6, 0.389, -23.6), INK, 15, "linear")}
      </Frame>
      <Frame left={218} top={2835} w={882} h={174.8} xDomain={[0, 2.12]} yDomain={[-60, 700]}>
        {ln("r", rows(B1_RAMP), INK, 7, "linear")}
        {ln("pa", seg(2.084, 122, 2.084, 322), INK, 15, "linear")}
        {ln("s", seg(0.827, -13, 1.327, -13), INK, 14, "linear")}
      </Frame>
      <Inset left={979} top={2312} w={577} h={393} xDomain={[400, 695]} yDomain={[0, 20]} xTicks={B1_XTICKS} xLabels={B1_XLABELS}
        yTicks={B1_YTICKS} up={pts2(B1_UP_X, B1_UP_Y)} down={pts2(B1_DOWN_X, B1_DOWN_Y)} />

      {/* ===== B2 ===== */}
      <Frame left={1668} top={2295.4} w={1366} h={617.7} xDomain={[0, 10.35]} yDomain={[-73, -2]}>
        {ln("v", b2V, INK, 6)}
        {ln("mv", seg(1.985, -44.7, 1.985, -24.7), INK, 14, "linear")}
      </Frame>
      <Frame left={1668} top={2861.6} w={1366} h={145.6} xDomain={[0, 10.35]} yDomain={[-40, 480]}>
        {ln("r", rows(B2_RAMP), INK, 7, "linear")}
        {ln("pa", seg(10.15, 89, 10.15, 289), INK, 14, "linear")}
        {ln("s", seg(4.053, -12.5, 6.053, -12.5), INK, 15, "linear")}
      </Frame>
      <Inset left={2802} top={2310} w={681} h={393} xDomain={[340, 556]} yDomain={[0, 12]} xTicks={B2_XTICKS} xLabels={B2_XLABELS}
        yTicks={B2_YTICKS} up={pts2(B2_UP_X, B2_UP_Y)} down={pts2(B2_DOWN_X, B2_DOWN_Y)} />

      {/* ===== B3 / B4 ===== */}
      <Occ left={214} top={3152} w={888} h={786} T={2.1} s={b3} />
      <Occ left={1663} top={3147} w={1371} h={788} T={10.35} s={b4} />

      {/* ===== overlay: text, legends, scheme ===== */}
      <svg width={3502} height={3973} style={{ position: "absolute", left: 0, top: 0, pointerEvents: "none" }}>
        <Txt x={1626} y={82} size={90} anchor="middle" len={673}>somatic injection</Txt>
        <Txt x={1624} y={2205} size={88} anchor="middle" len={730}>{"dendritic  injection"}</Txt>

        <Txt x={187} y={222} size={100} bold len={110}>A1</Txt>
        <Txt x={1691} y={221} size={100} bold len={114}>A2</Txt>
        <Txt x={187} y={1113} size={100} bold len={118}>A3</Txt>
        <Txt x={1691} y={1112} size={100} bold len={118}>A4</Txt>
        <Txt x={189} y={2362} size={100} bold len={112}>B1</Txt>
        <Txt x={1697} y={2359} size={100} bold len={116}>B2</Txt>
        <Txt x={189} y={3129} size={100} bold len={118}>B3</Txt>
        <Txt x={1694} y={3129} size={100} bold len={118}>B4</Txt>

        <Txt x={303} y={418} size={56} anchor="end">20 mV</Txt>
        <Txt x={1922} y={471} size={56} anchor="end">20 mV</Txt>
        <Txt x={344} y={2578} size={56} anchor="end">20 mV</Txt>
        <Txt x={1904} y={2608} size={56} anchor="end">20 mV</Txt>
        <Txt x={1069} y={932} size={56}>100 pA</Txt>
        <Txt x={3026} y={919} size={56}>100 pA</Txt>
        <Txt x={1115} y={2974} size={56}>200 pA</Txt>
        <Txt x={3050} y={2966} size={56}>200 pA</Txt>
        <Txt x={647} y={974} size={56} anchor="middle">0.5 s</Txt>
        <Txt x={669} y={2971} size={56} anchor="middle">0.5 s</Txt>
        <Txt x={2340} y={976} size={56} anchor="middle">2 s</Txt>
        <Txt x={2329} y={2981} size={56} anchor="middle">2 s</Txt>

        <Txt x={904} y={383} size={50} anchor="middle" rot={-90} len={366}>frequency (Hz)</Txt>
        <Txt x={2697} y={361} size={50} anchor="middle" rot={-90} len={360}>frequency (Hz)</Txt>
        <Txt x={886} y={2526} size={50} anchor="middle" rot={-90} len={344}>frequency (Hz)</Txt>
        <Txt x={2697} y={2516} size={50} anchor="middle" rot={-90} len={358}>frequency (Hz)</Txt>
        <Txt x={1226} y={684} size={56} anchor="middle" len={508}>injected current (pA)</Txt>
        <Txt x={3162} y={670} size={56} anchor="middle" len={508}>injected current (pA)</Txt>
        <Txt x={1248} y={2821} size={56} anchor="middle" len={499}>injected current (pA)</Txt>
        <Txt x={3148} y={2818} size={62} anchor="middle" len={561}>injected current (pA)</Txt>

        <text x={60} y={1535} fontSize={52} fontFamily={FF} fill={INK} textAnchor="middle" transform="rotate(-90 60 1535)"
          textLength={823} lengthAdjust="spacingAndGlyphs" style={{ whiteSpace: "pre" }}>
          Na<tspan fontSize={36} dy={10}>V</tspan><tspan dy={-10}>{"1.6 channel  state occupancy"}</tspan>
        </text>
        <text x={52} y={3529} fontSize={52} fontFamily={FF} fill={INK} textAnchor="middle" transform="rotate(-90 52 3529)"
          textLength={818} lengthAdjust="spacingAndGlyphs" style={{ whiteSpace: "pre" }}>
          Na<tspan fontSize={36} dy={10}>V</tspan><tspan dy={-10}>{"1.6 channel  state occupancy"}</tspan>
        </text>

        {/* A1 inset legend */}
        <rect x={1336} y={427} width={321} height={120} fill="#fff" stroke={INK} strokeWidth={3} />
        <circle cx={1376} cy={455} r={15} fill={INK} />
        <Txt x={1400} y={470} size={48}>up-ramp</Txt>
        <circle cx={1376} cy={510} r={14} fill="#fff" stroke={INK} strokeWidth={3} />
        <Txt x={1400} y={525} size={48}>down-ramp</Txt>

        {/* A3 legend */}
        {LEGEND.map((l) => (
          <g key={l.k}>
            <circle cx={1155} cy={l.y} r={31} fill={l.c} />
            <Txt x={1202} y={l.y + 26} size={72} len={l.len}>{l.k}</Txt>
          </g>
        ))}

        {/* kinetic scheme */}
        {ARROWS.map((a, i) => <Arrow key={i} a={a} />)}
        {NODES.map((n) => (
          <g key={n.k}>
            <circle cx={n.x} cy={n.y} r={79} fill={n.c} stroke={INK} strokeWidth={7} />
            <Txt x={n.x} y={n.y + 32} size={88} anchor="middle" fill="#fff" len={n.len}>{n.k}</Txt>
          </g>
        ))}
      </svg>
    </div>
  );
}
